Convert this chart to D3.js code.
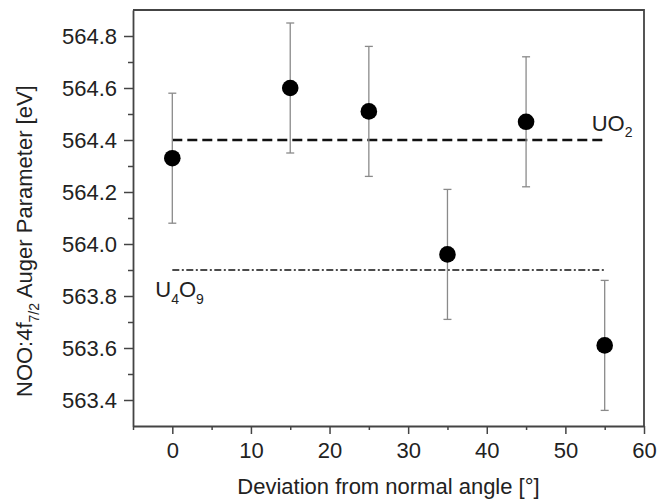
<!DOCTYPE html>
<html>
<head>
<meta charset="utf-8">
<script src="https://cdn.jsdelivr.net/npm/d3@7"></script>
<style>
  body { margin: 0; background: #fff; }
  text { font-family: "Liberation Sans", Arial, sans-serif; fill: #222; }
</style>
</head>
<body>
<div id="chart"></div>
<script>
// data
const angles = [0, 15, 25, 35, 45, 55];
const auger = [564.33, 564.60, 564.51, 563.96, 564.47, 563.61];
const augerErr = [0.25, 0.25, 0.25, 0.25, 0.25, 0.25];

const xTicks = [0, 10, 20, 30, 40, 50, 60];
const xMinor = [-5, 5, 15, 25, 35, 45, 55];
const yTicks = [563.4, 563.6, 563.8, 564.0, 564.2, 564.4, 564.6, 564.8];
const yMinor = [563.5, 563.7, 563.9, 564.1, 564.3, 564.5, 564.7];

// reference levels
const refNames = ['UO2', 'U4O9'];
const refValues = [564.4, 563.9];
const refFrom = [0, 0];
const refTo = [55, 55];

const W = 660, H = 504;
const margin = { top: 10, right: 16, bottom: 78, left: 133 },
    width = W - margin.left - margin.right,
    height = H - margin.top - margin.bottom;

const svg = d3.select('#chart').append('svg')
    .attr('width', W)
    .attr('height', H)
    .append('g')
    .attr('transform', 'translate(' + margin.left + ',' + margin.top + ')');

const x = d3.scaleLinear().domain([-5, 60]).range([0, width]);
const y = d3.scaleLinear().domain([563.3, 564.9]).range([height, 0]);

const axisColor = '#444';

// minor ticks first
svg.append('g')
    .attr('transform', 'translate(0,' + height + ')')
    .call(d3.axisBottom(x).tickValues(xMinor).tickSize(4).tickFormat(''))
    .call(g => g.select('.domain').remove());
svg.append('g')
    .call(d3.axisLeft(y).tickValues(yMinor).tickSize(5).tickFormat(''))
    .call(g => g.select('.domain').remove());

const xAxis = svg.append('g')
    .attr('transform', 'translate(0,' + height + ')')
    .call(d3.axisBottom(x).tickValues(xTicks).tickSize(8).tickSizeOuter(0).tickPadding(8).tickFormat(d3.format('d')));

const yAxis = svg.append('g')
    .call(d3.axisLeft(y).tickValues(yTicks).tickSize(9).tickSizeOuter(0).tickPadding(7).tickFormat(d3.format('.1f')));

svg.selectAll('.tick line').attr('stroke', axisColor).attr('stroke-width', 1.5);
svg.selectAll('.tick text').style('font-size', '22px').attr('fill', '#222');
svg.selectAll('.domain').attr('stroke', axisColor).attr('stroke-width', 1.8);

// frame top/right
svg.append('path')
    .attr('d', 'M0,0H' + width + 'V' + height)
    .attr('fill', 'none')
    .attr('stroke', axisColor)
    .attr('stroke-width', 1.8);

// reference lines
const dashes = ['10,5', '7,2.5,2,2.5'];
const lineW = [2.4, 1.3];
svg.selectAll('.ref')
    .data(refValues)
    .enter().append('line')
    .attr('class', 'ref')
    .attr('x1', (d, i) => x(refFrom[i]))
    .attr('x2', (d, i) => x(refTo[i]))
    .attr('y1', d => y(d))
    .attr('y2', d => y(d))
    .attr('stroke', '#111')
    .attr('stroke-width', (d, i) => lineW[i])
    .attr('stroke-dasharray', (d, i) => dashes[i]);

// UO2 label
const uo2 = svg.append('text')
    .attr('x', x(refTo[0]) - 13)
    .attr('y', y(refValues[0]) - 9)
    .style('font-size', '22px');
uo2.append('tspan').text('UO');
uo2.append('tspan').attr('dy', 6).style('font-size', '14px').text('2');

// U4O9 label
const u4o9 = svg.append('text')
    .attr('x', x(refFrom[1]) - 17)
    .attr('y', y(refValues[1]) + 27)
    .style('font-size', '22px');
u4o9.append('tspan').text('U');
u4o9.append('tspan').attr('dy', 7).style('font-size', '14px').text('4');
u4o9.append('tspan').attr('dy', -7).text('O');
u4o9.append('tspan').attr('dy', 7).style('font-size', '14px').text('9');

// error bars
const pts = angles.map((a, i) => ({ a: a, v: auger[i], e: augerErr[i] }));
const err = svg.selectAll('.err')
    .data(pts)
    .enter().append('g')
    .attr('class', 'err')
    .attr('stroke', '#8a8a8a')
    .attr('stroke-width', 1.3);
err.append('line')
    .attr('x1', d => x(d.a)).attr('x2', d => x(d.a))
    .attr('y1', d => y(d.v - d.e)).attr('y2', d => y(d.v + d.e));
err.append('line')
    .attr('x1', d => x(d.a) - 4).attr('x2', d => x(d.a) + 4)
    .attr('y1', d => y(d.v + d.e)).attr('y2', d => y(d.v + d.e));
err.append('line')
    .attr('x1', d => x(d.a) - 4).attr('x2', d => x(d.a) + 4)
    .attr('y1', d => y(d.v - d.e)).attr('y2', d => y(d.v - d.e));

// points
svg.selectAll('.dot')
    .data(pts)
    .enter().append('circle')
    .attr('class', 'dot')
    .attr('cx', d => x(d.a))
    .attr('cy', d => y(d.v))
    .attr('r', 8.3)
    .attr('fill', '#000');

// axis titles
svg.append('text')
    .attr('x', width / 2)
    .attr('y', height + 68)
    .attr('text-anchor', 'middle')
    .style('font-size', '22px')
    .text('Deviation from normal angle [°]');

const yl = svg.append('text')
    .attr('transform', 'translate(' + (32 - margin.left) + ',' + (397 - margin.top) + ') rotate(-90)')
    .style('font-size', '22px');
yl.append('tspan').text('NOO:4f');
yl.append('tspan').attr('dy', 7).style('font-size', '14px').text('7/2');
yl.append('tspan').attr('dy', -7).text(' Auger Parameter [eV]');
</script>
</body>
</html>
